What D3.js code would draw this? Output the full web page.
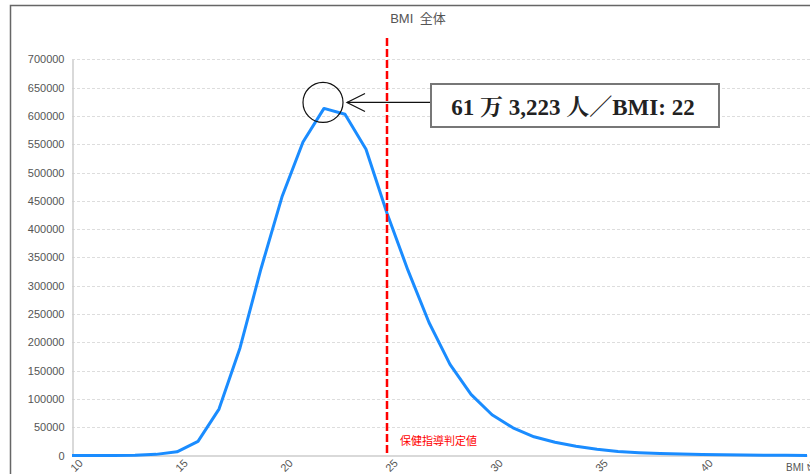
<!DOCTYPE html>
<html>
<head>
<meta charset="utf-8">
<script src="https://cdn.jsdelivr.net/npm/d3@7"></script>
<style>
  html, body { margin: 0; padding: 0; background: #fff; }
  svg { display: block; }
</style>
</head>
<body>
<script>
const title = "BMI 全体";
const bmi = [10,11,12,13,14,15,16,17,18,19,20,21,22,23,24,25,26,27,28,29,30,31,32,33,34,35,36,37,38,39,40,41,42,43,44,45];
const counts = [0,0,100,300,2000,6500,25000,82000,190000,330000,457000,554000,613223,603000,541000,428000,327000,235000,161000,108000,72000,49000,33000,23500,16500,11000,7000,5000,3500,2500,1800,1200,800,500,300,200];
const yTicks = [0,50000,100000,150000,200000,250000,300000,350000,400000,450000,500000,550000,600000,650000,700000];
const xTicks = [10,15,20,25,30,35,40,45];
const thresholdBMI = 25;
const thresholdLabel = "保健指導判定値";
const peakBMI = 22;
const peakCount = 613223;
const annotationText = "61 万 3,223 人／BMI: 22";
const xAxisTitle = "BMI";

const W = 810, H = 474;
const svg = d3.select("body").append("svg").attr("width", W).attr("height", H);

// outer frame
svg.append("rect").attr("x", 10.5).attr("y", 5.5).attr("width", W + 10).attr("height", H + 10)
  .attr("fill", "none").attr("stroke", "#666").attr("stroke-width", 1.5);

const x = d3.scaleLinear().domain([10, 45]).range([72, 807]);
const y = d3.scaleLinear().domain([0, 700000]).range([455.5, 59.3]);

// title
svg.append("text").attr("x", 418).attr("y", 23).attr("text-anchor", "middle")
  .attr("font-family", "Arial, 'Liberation Sans', 'Noto Sans CJK JP', sans-serif")
  .attr("font-size", 13).attr("fill", "#555").attr("word-spacing", 3).text(title);

// grid
svg.append("g").selectAll("line").data(yTicks.filter(d => d > 0)).join("line")
  .attr("x1", 72).attr("x2", W).attr("y1", d => Math.round(y(d)) + 0.5).attr("y2", d => Math.round(y(d)) + 0.5)
  .attr("stroke", "#ddd").attr("stroke-dasharray", "3,2").attr("stroke-width", 1);

// y axis
const yAxis = d3.axisLeft(y).tickValues(yTicks).tickSize(0).tickPadding(8).tickFormat(d3.format("d"));
const gy = svg.append("g").attr("transform", "translate(72.5,0)").call(yAxis);
gy.select(".domain").attr("stroke", "#ccc").attr("stroke-width", 1.5);
gy.selectAll("text").attr("font-family", "Arial, 'Liberation Sans', sans-serif").attr("font-size", 11).attr("fill", "#555");

// x axis
const xAxis = d3.axisBottom(x).tickValues(xTicks).tickSize(0).tickFormat(d3.format("d"));
const gx = svg.append("g").attr("transform", "translate(0," + y(0) + ")").call(xAxis);
gx.select(".domain").attr("stroke", "#ccc").attr("stroke-width", 1.5);
gx.selectAll("text")
  .attr("font-family", "Arial, 'Liberation Sans', sans-serif").attr("font-size", 11).attr("fill", "#555")
  .attr("text-anchor", "middle").attr("y", 0).attr("dy", "0.35em")
  .attr("transform", d => "translate(4,10) rotate(-45)");

svg.append("text").attr("x", 786).attr("y", 471)
  .attr("font-family", "Arial, 'Liberation Sans', sans-serif").attr("font-size", 10).attr("fill", "#555")
  .text(xAxisTitle);

// data line
const line = d3.line().x((d, i) => x(bmi[i])).y(d => y(d));
svg.append("path").datum(counts).attr("d", line)
  .attr("fill", "none").attr("stroke", "#1a8cff").attr("stroke-width", 3).attr("stroke-linejoin", "round");

// threshold line
svg.append("line").attr("x1", x(thresholdBMI)).attr("x2", x(thresholdBMI)).attr("y1", 38).attr("y2", y(0))
  .attr("stroke", "#f00").attr("stroke-width", 2.5).attr("stroke-dasharray", "8,3");
svg.append("text").attr("x", x(thresholdBMI) + 13).attr("y", 445)
  .attr("font-family", "'Noto Sans CJK JP', sans-serif").attr("font-size", 11).attr("fill", "#f00")
  .text(thresholdLabel);

// annotation
const cx = x(peakBMI) - 1, cy = y(peakCount) - 6;
svg.append("circle").attr("cx", cx).attr("cy", cy).attr("r", 20)
  .attr("fill", "none").attr("stroke", "#111").attr("stroke-width", 1.2);
const tipX = cx + 24;
svg.append("line").attr("x1", tipX).attr("x2", 431).attr("y1", cy).attr("y2", cy).attr("stroke", "#111").attr("stroke-width", 1.2);
svg.append("path").attr("d", `M${tipX + 18},${cy - 9} L${tipX},${cy} L${tipX + 18},${cy + 9}`)
  .attr("fill", "none").attr("stroke", "#111").attr("stroke-width", 1.2);
svg.append("rect").attr("x", 431).attr("y", 84).attr("width", 288).attr("height", 43)
  .attr("fill", "#fff").attr("stroke", "#777").attr("stroke-width", 2);
svg.append("text").attr("x", 573).attr("y", 115).attr("text-anchor", "middle")
  .attr("font-family", "'Liberation Serif', 'Times New Roman', 'Noto Serif CJK JP', 'Noto Sans CJK JP', serif")
  .attr("font-weight", "bold").attr("font-size", 23).attr("fill", "#222")
  .text(annotationText);
</script>
</body>
</html>
